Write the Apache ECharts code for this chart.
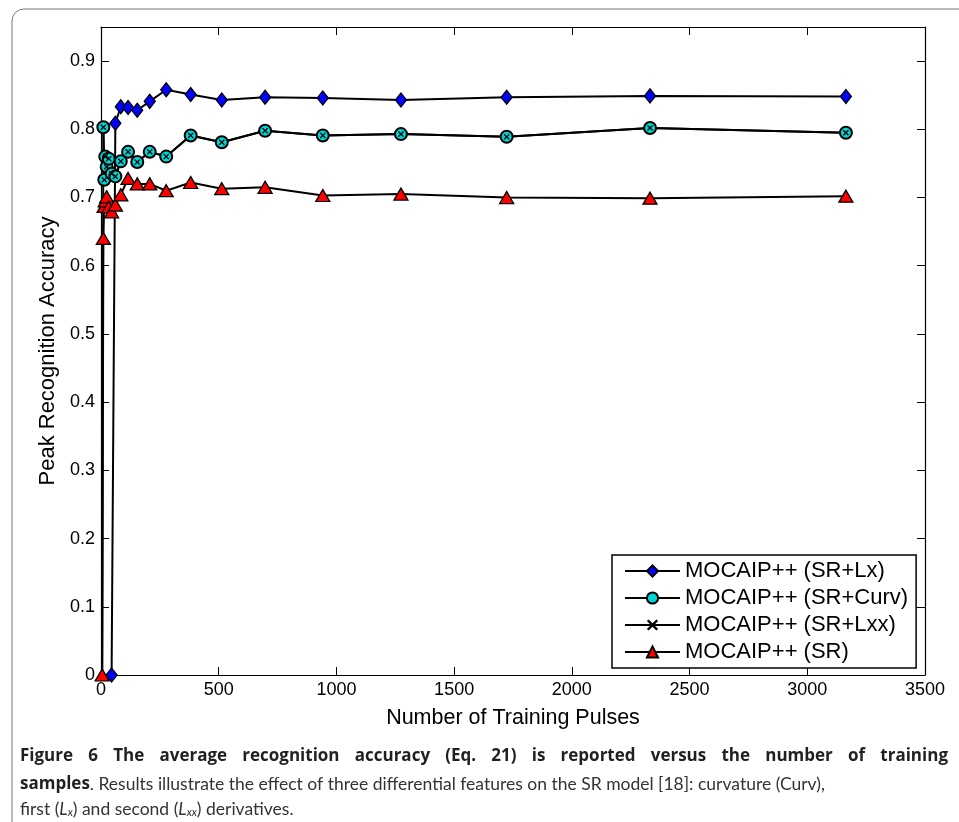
<!DOCTYPE html>
<html><head><meta charset="utf-8">
<script src="https://cdn.jsdelivr.net/npm/echarts@6/dist/echarts.min.js"></script>
<style>html,body{margin:0;padding:0;background:#fff}#c{width:959px;height:822px}</style>
</head><body><div id="c"></div>
<script>
// ---------- data ----------
const seriesNames = ['MOCAIP++ (SR+Lx)', 'MOCAIP++ (SR+Curv)', 'MOCAIP++ (SR+Lxx)', 'MOCAIP++ (SR)'];

const xLx   = [45, 61, 84, 115, 154, 207, 277, 381, 513, 697, 942, 1274, 1723, 2332, 3164];
const yLx   = [0, 0.809, 0.833, 0.832, 0.828, 0.841, 0.858, 0.851, 0.843, 0.847, 0.846, 0.843, 0.847, 0.849, 0.848];

const xCurv = [10, 14, 18, 24, 33, 45, 61, 84, 115, 154, 207, 277, 381, 513, 697, 942, 1274, 1723, 2332, 3164];
const yCurv = [0.803, 0.726, 0.760, 0.745, 0.757, 0.735, 0.731, 0.753, 0.767, 0.752, 0.767, 0.760, 0.791, 0.781, 0.798, 0.791, 0.793, 0.789, 0.802, 0.795];

const xLxx  = [5, 10, 14, 18, 24, 33, 45, 61, 84, 115, 154, 207, 277, 381, 513, 697, 942, 1274, 1723, 2332, 3164];
const yLxx  = [0, 0.803, 0.726, 0.760, 0.745, 0.757, 0.735, 0.731, 0.753, 0.767, 0.752, 0.767, 0.760, 0.791, 0.781, 0.798, 0.791, 0.793, 0.789, 0.802, 0.795];

const xSR   = [5, 10, 13, 18, 24, 33, 45, 61, 84, 115, 154, 207, 277, 381, 513, 697, 942, 1274, 1723, 2332, 3164];
const ySR   = [0, 0.640, 0.687, 0.695, 0.701, 0.686, 0.679, 0.689, 0.704, 0.728, 0.720, 0.720, 0.710, 0.722, 0.713, 0.715, 0.703, 0.705, 0.700, 0.699, 0.702];

const xTickLabels = ['0', '500', '1000', '1500', '2000', '2500', '3000', '3500'];
const yTickLabels = ['0', '0.1', '0.2', '0.3', '0.4', '0.5', '0.6', '0.7', '0.8', '0.9'];

const xAxisTitle = 'Number of Training Pulses';
const yAxisTitle = 'Peak Recognition Accuracy';
const captionLine1 = 'Figure 6 The average recognition accuracy (Eq. 21) is reported versus the number of training';
const captionLine2Bold = 'samples';
const captionLine2 = '. Results illustrate the effect of three differential features on the SR model [18]: curvature (Curv),';

// ---------- chart ----------
function pts(xs, ys) { return xs.map((x, i) => [x, ys[i]]); }
const crossPath = 'path://M0,1.5L1.5,0L5,3.5L8.5,0L10,1.5L6.5,5L10,8.5L8.5,10L5,6.5L1.5,10L0,8.5L3.5,5Z';
const tickFont = 'Liberation Sans';

const base = {
  type: 'line', clip: false, animation: false,
  lineStyle: { color: '#000', width: 2 },
  emphasis: { disabled: true }
};

const series = [
  Object.assign({}, base, { name: seriesNames[0], data: pts(xLx, yLx), symbol: 'diamond', symbolSize: [11, 14],
    itemStyle: { color: '#0000ff', borderColor: '#000', borderWidth: 1.3 } }),
  Object.assign({}, base, { name: seriesNames[1], data: pts(xCurv, yCurv), symbol: 'circle', symbolSize: 12,
    itemStyle: { color: '#00d4d4', borderColor: '#000', borderWidth: 2 } }),
  Object.assign({}, base, { name: seriesNames[2], data: pts(xLxx, yLxx), symbol: crossPath, symbolSize: 6,
    itemStyle: { color: '#000', borderWidth: 0 } }),
  Object.assign({}, base, { name: seriesNames[3], data: pts(xSR, ySR), symbol: 'triangle', symbolSize: [14, 12],
    itemStyle: { color: '#ff0000', borderColor: '#000', borderWidth: 1.3 } })
];

const axisLineStyle = { show: true, onZero: false, lineStyle: { color: '#000', width: 1.2 } };
const tickStyle = { show: true, inside: true, length: 8, lineStyle: { color: '#000', width: 1 } };

const chart = echarts.init(document.getElementById('c'), null, { renderer: 'canvas' });

// justified first caption line
const measureCtx = document.createElement('canvas').getContext('2d');
const capBoldFont = 'bold 17px "Open Sans"';
const capRegFont = '17.5px Lato';
measureCtx.font = capBoldFont;
const words = captionLine1.split(' ');
const capLeft = 20, capRight = 948;
const widths = words.map(w => measureCtx.measureText(w).width);
const totalW = widths.reduce((a, b) => a + b, 0);
const gap = Math.max(4, (capRight - capLeft - totalW) / (words.length - 1));
const captionGraphics = [];
let cx = capLeft;
words.forEach((w, i) => {
  captionGraphics.push({ type: 'text', left: cx, top: 748, silent: true,
    style: { text: w, font: capBoldFont, fill: '#231f20' } });
  cx += widths[i] + gap;
});

chart.setOption({
  backgroundColor: '#fff',
  animation: false,
  grid: { left: 101, top: 27, right: 34, bottom: 147, containLabel: false },
  xAxis: [
    { type: 'value', min: 0, max: 3500, interval: 500, position: 'bottom',
      axisLine: axisLineStyle, axisTick: tickStyle, splitLine: { show: false },
      axisLabel: { color: '#000', fontSize: 18, fontFamily: tickFont, margin: 6,
        formatter: (v) => xTickLabels[Math.round(v / 500)] },
      name: xAxisTitle, nameLocation: 'middle', nameGap: 32,
      nameTextStyle: { color: '#000', fontSize: 21.5, fontFamily: tickFont } },
    { type: 'value', min: 0, max: 3500, interval: 500, position: 'top',
      axisLine: axisLineStyle, axisTick: tickStyle, splitLine: { show: false }, axisLabel: { show: false } }
  ],
  yAxis: [
    { type: 'value', min: 0, max: 0.95, interval: 0.1, position: 'left',
      axisLine: axisLineStyle, axisTick: tickStyle, splitLine: { show: false },
      axisLabel: { color: '#000', fontSize: 18, fontFamily: tickFont, margin: 6, showMaxLabel: false,
        formatter: (v) => { const i = Math.round(v * 10); return i < yTickLabels.length ? yTickLabels[i] : ''; } },
      name: yAxisTitle, nameLocation: 'middle', nameGap: 41,
      nameTextStyle: { color: '#000', fontSize: 22, fontFamily: tickFont } },
    { type: 'value', min: 0, max: 0.95, interval: 0.1, position: 'right',
      axisLine: axisLineStyle, axisTick: tickStyle, splitLine: { show: false }, axisLabel: { show: false } }
  ],
  legend: {
    orient: 'vertical', left: 612, top: 555, itemWidth: 55, itemHeight: 14, itemGap: 5,
    padding: [5, 8, 5, 12], borderColor: '#000', borderWidth: 1.5, backgroundColor: '#fff',
    textStyle: { color: '#000', fontSize: 22, fontFamily: tickFont },
    data: seriesNames, selectedMode: false
  },
  graphic: [
    { type: 'rect', silent: true, shape: { x: 12, y: 9, width: 1000, height: 900, r: 12 },
      style: { fill: 'none', stroke: '#777', lineWidth: 1 } },
    ...captionGraphics,
    { type: 'text', left: 20, top: 775, silent: true,
      style: { text: '{b|' + captionLine2Bold + '}{r|' + captionLine2 + '}',
        rich: { b: { font: capBoldFont, fill: '#231f20' }, r: { font: capRegFont, fill: '#333' } } } },
    { type: 'text', left: 20, top: 800, silent: true,
      style: { text: '{r|first (}{i|L}{s|x}{r|) and second (}{i|L}{s|xx}{r|) derivatives.}',
        rich: { r: { font: capRegFont, fill: '#333', verticalAlign: 'bottom', lineHeight: 21 },
                i: { font: 'italic ' + capRegFont, fill: '#333', verticalAlign: 'bottom', lineHeight: 21 },
                s: { font: 'italic 11px Lato', fill: '#333', verticalAlign: 'bottom', lineHeight: 15 } } } }
  ],
  series: series
});
</script>
</body></html>
